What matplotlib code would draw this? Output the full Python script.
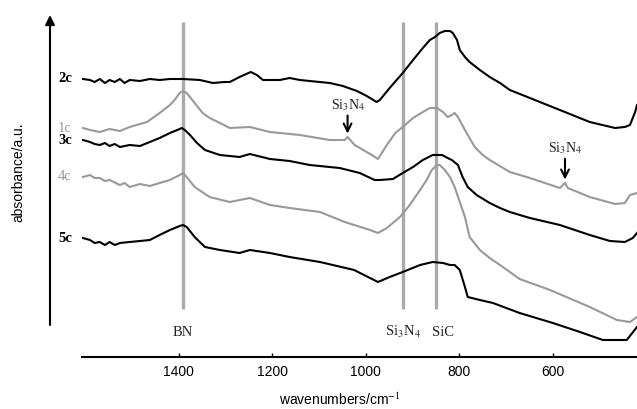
import numpy as np
import matplotlib
matplotlib.use("Agg")
import matplotlib.pyplot as plt

plt.rcParams.update({
    "font.family": "Liberation Sans",
    "mathtext.fontset": "stix",
    "font.size": 10,
})

# spectra, wavenumber (cm-1) / absorbance (a.u., already offset)
wn_2c = [1605, 1590, 1580, 1569, 1558, 1548, 1537, 1526, 1516, 1505, 1483, 1462, 1441, 1419,
         1391, 1355, 1327, 1302, 1291, 1270, 1246, 1233, 1220, 1184, 1163, 1141, 1120, 1077,
         1049, 1019, 998, 977, 970, 949, 921, 899, 878, 863, 852, 842, 831, 820, 814, 805,
         799, 788, 778, 756, 735, 713, 692, 649, 585, 521, 467, 446, 435, 424, 420]
ab_2c = [2.78, 2.77, 2.75, 2.78, 2.74, 2.77, 2.75, 2.78, 2.74, 2.77, 2.76, 2.78, 2.77, 2.78,
         2.78, 2.77, 2.74, 2.75, 2.75, 2.80, 2.85, 2.82, 2.77, 2.77, 2.79, 2.77, 2.76, 2.74,
         2.71, 2.66, 2.61, 2.55, 2.57, 2.69, 2.84, 2.97, 3.09, 3.17, 3.20, 3.24, 3.26, 3.26,
         3.24, 3.17, 3.07, 3.00, 2.95, 2.87, 2.80, 2.74, 2.67, 2.59, 2.47, 2.35, 2.29, 2.30,
         2.32, 2.45, 2.52]

wn_1c = [1605, 1590, 1569, 1548, 1526, 1505, 1468, 1441, 1419, 1409, 1398, 1391, 1383, 1366,
         1349, 1334, 1312, 1291, 1248, 1205, 1141, 1077, 1045, 1039, 1024, 987, 974, 955, 937,
         921, 899, 878, 863, 848, 835, 825, 816, 810, 803, 788, 767, 750, 735, 692, 649, 585,
         574, 568, 521, 467, 446, 435, 420]
ab_1c = [2.29, 2.27, 2.25, 2.28, 2.26, 2.30, 2.35, 2.44, 2.52, 2.57, 2.64, 2.66, 2.64, 2.54,
         2.44, 2.39, 2.34, 2.29, 2.30, 2.25, 2.22, 2.17, 2.17, 2.20, 2.12, 2.02, 1.98, 2.12,
         2.24, 2.30, 2.39, 2.45, 2.49, 2.49, 2.45, 2.40, 2.42, 2.44, 2.40, 2.27, 2.10, 2.02,
         1.97, 1.85, 1.79, 1.69, 1.74, 1.69, 1.60, 1.53, 1.54, 1.62, 1.64]

wn_3c = [1605, 1590, 1580, 1569, 1558, 1548, 1537, 1526, 1505, 1483, 1462, 1441, 1419, 1398,
         1394, 1387, 1376, 1361, 1344, 1312, 1270, 1248, 1205, 1163, 1120, 1056, 1013, 981,
         970, 942, 921, 899, 878, 857, 837, 825, 816, 803, 793, 782, 763, 735, 713, 692, 649,
         585, 521, 478, 446, 429, 420]
ab_3c = [2.17, 2.15, 2.13, 2.12, 2.14, 2.11, 2.13, 2.10, 2.12, 2.11, 2.15, 2.19, 2.24, 2.28,
         2.29, 2.27, 2.22, 2.14, 2.07, 2.02, 2.00, 2.03, 1.98, 1.96, 1.92, 1.89, 1.84, 1.77,
         1.77, 1.78, 1.84, 1.90, 1.97, 2.02, 2.02, 1.99, 1.97, 1.92, 1.80, 1.70, 1.62, 1.54,
         1.49, 1.45, 1.39, 1.32, 1.22, 1.16, 1.15, 1.19, 1.24]

wn_4c = [1605, 1590, 1580, 1569, 1558, 1548, 1526, 1516, 1505, 1483, 1462, 1441, 1419, 1398,
         1391, 1383, 1366, 1334, 1291, 1248, 1205, 1163, 1098, 1045, 991, 974, 955, 927, 906,
         884, 870, 859, 848, 842, 831, 820, 810, 799, 788, 778, 756, 735, 713, 671, 606, 521,
         463, 435, 420]
ab_4c = [1.80, 1.82, 1.79, 1.79, 1.76, 1.77, 1.72, 1.74, 1.70, 1.73, 1.71, 1.74, 1.77, 1.82,
         1.84, 1.80, 1.70, 1.60, 1.55, 1.59, 1.52, 1.49, 1.45, 1.35, 1.27, 1.24, 1.29, 1.40,
         1.52, 1.67, 1.77, 1.87, 1.92, 1.92, 1.87, 1.80, 1.70, 1.55, 1.40, 1.20, 1.07, 0.99,
         0.92, 0.78, 0.67, 0.50, 0.37, 0.35, 0.40]

wn_5c = [1605, 1590, 1580, 1569, 1558, 1548, 1537, 1526, 1505, 1483, 1462, 1441, 1419, 1398,
         1391, 1383, 1366, 1344, 1312, 1270, 1248, 1205, 1163, 1098, 1025, 991, 974, 949, 921,
         884, 857, 835, 820, 810, 799, 788, 782, 756, 728, 671, 600, 542, 493, 442, 420]
ab_5c = [1.19, 1.17, 1.14, 1.15, 1.12, 1.15, 1.12, 1.14, 1.15, 1.16, 1.17, 1.22, 1.27, 1.31,
         1.32, 1.30, 1.20, 1.10, 1.07, 1.04, 1.07, 1.04, 1.00, 0.95, 0.87, 0.79, 0.75, 0.80,
         0.85, 0.92, 0.95, 0.94, 0.92, 0.92, 0.87, 0.70, 0.60, 0.57, 0.54, 0.44, 0.34, 0.25,
         0.17, 0.17, 0.30]

curve_names = ["2c", "1c", "3c", "4c", "5c"]
curve_wn = [wn_2c, wn_1c, wn_3c, wn_4c, wn_5c]
curve_ab = [ab_2c, ab_1c, ab_3c, ab_4c, ab_5c]
curve_colors = ["black", "#999999", "black", "#999999", "black"]

# reference bands
band_wn = [1391, 921, 850]
band_labels = ["BN", r"Si$_3$N$_4$", "SiC"]

# marked Si3N4 peaks on 1c
peak_wn = [1039, 574]
peak_ab = [2.22, 1.76]

fig = plt.figure(figsize=(6.37, 4.09), dpi=100)
ax = fig.add_axes([82 / 637, 52 / 409, 555 / 637, 347 / 409])

for band in band_wn:
    ax.vlines(band, 0.48, 3.35, color="#aaaaaa", lw=2.4, zorder=1)

for name, x, y, c in zip(curve_names, curve_wn, curve_ab, curve_colors):
    ax.plot(x, y, color=c, lw=1.5, zorder=2, solid_joinstyle="round")
    ax.annotate(name, xy=(x[0], y[0]), xytext=(-8, 0), textcoords="offset points",
                ha="right", va="center", family="Liberation Serif", fontsize=10.5,
                fontweight="bold" if c == "black" else "normal", color=c,
                annotation_clip=False)

for band, lab in zip(band_wn, band_labels):
    dx = 5 if lab == "SiC" else 0
    ax.annotate(lab, xy=(band, 0.25), xytext=(dx, 0), textcoords="offset points",
                ha="center", va="center", family="Liberation Serif", fontsize=10.5,
                color="#222222", annotation_clip=False)

for pw, pa, off in zip(peak_wn, peak_ab, [16, 18]):
    ax.annotate(r"Si$_3$N$_4$", xy=(pw, pa), xytext=(0, off), textcoords="offset points",
                ha="center", va="bottom", family="Liberation Serif", fontsize=10,
                color="#222222",
                arrowprops=dict(arrowstyle="->", color="black", lw=1.5,
                                mutation_scale=14, shrinkA=0, shrinkB=1))

ax.set_xlim(1607, 420)
ax.set_ylim(0, 3.47)
ax.set_xticks([1400, 1200, 1000, 800, 600])
ax.tick_params(axis="x", direction="in", length=3, width=1, pad=6, labelsize=10)
ax.set_yticks([])
for s in ["left", "right", "top"]:
    ax.spines[s].set_visible(False)
ax.spines["bottom"].set_linewidth(1.5)

ax.set_xlabel(r"wavenumbers/cm$^{-1}$", fontsize=10)
ax.xaxis.set_label_coords((340 - 82) / 555, -0.098)

# y axis drawn as an arrow
ax.annotate("", xy=(50 / 637, 1 - 15 / 409), xytext=(50 / 637, 1 - 325 / 409),
            xycoords="figure fraction", textcoords="figure fraction",
            arrowprops=dict(arrowstyle="-|>", color="black", lw=1.5,
                            mutation_scale=14, shrinkA=0, shrinkB=0))
fig.text(18 / 637, 1 - 172 / 409, "absorbance/a.u.", rotation=90,
         ha="center", va="center", fontsize=10)

fig.savefig("out.png", dpi=100)
